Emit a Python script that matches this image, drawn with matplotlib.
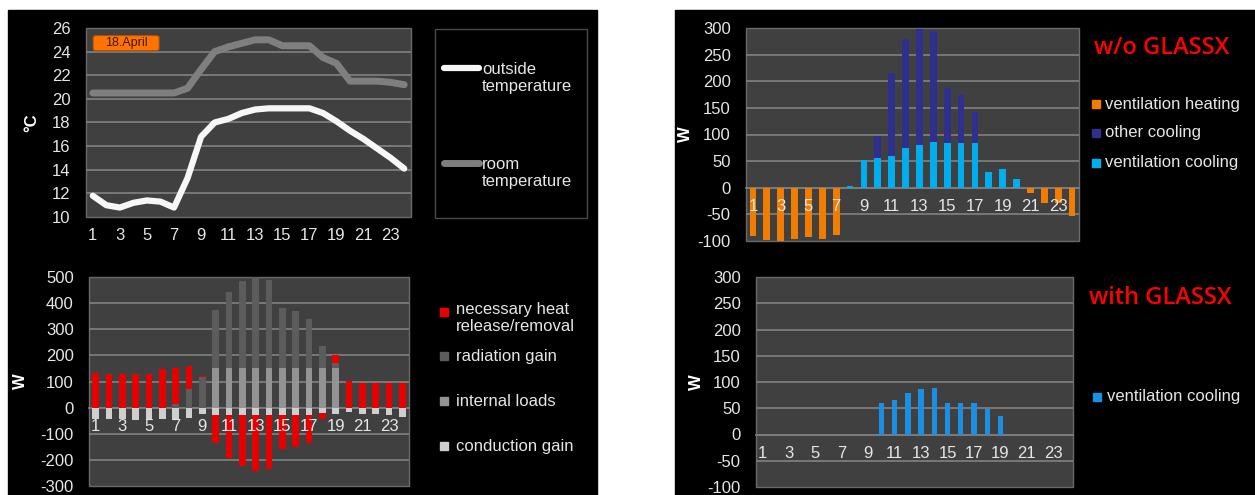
import numpy as np
import matplotlib
matplotlib.use('Agg')
import matplotlib.pyplot as plt
from matplotlib.patches import Rectangle, FancyBboxPatch
from matplotlib.lines import Line2D

plt.rcParams['font.family'] = ['Liberation Sans', 'DejaVu Sans']

hours = list(range(1, 25))
hour_labels = [str(h) if h % 2 == 1 else '' for h in hours]

# temperatures on 18 April (°C)
outside_temp = [11.8, 11.0, 10.8, 11.2, 11.4, 11.3, 10.8, 13.3, 16.8, 18.0, 18.3, 18.8,
                19.1, 19.2, 19.2, 19.2, 19.2, 18.8, 18.1, 17.3, 16.6, 15.8, 15.0, 14.1]
room_temp = [20.5, 20.5, 20.5, 20.5, 20.5, 20.5, 20.5, 20.9, 22.5, 24.0, 24.4, 24.7,
             25.0, 25.0, 24.5, 24.5, 24.5, 23.5, 23.0, 21.5, 21.5, 21.5, 21.4, 21.2]

# heat balance (W)
conduction_gain = [-45, -45, -45, -46, -45, -45, -47, -38, -25, -28, -30, -30,
                   -30, -30, -30, -30, -30, -20, -24, -17, -23, -23, -28, -35]
internal_loads = [0, 0, 0, 0, 0, 0, 0, 0, 0, 150, 150, 150,
                  150, 150, 150, 150, 150, 150, 150, 0, 0, 0, 0, 0]
radiation_gain = [0, 0, 0, 0, 0, 0, 13, 71, 116, 224, 291, 333,
                  349, 337, 233, 221, 189, 86, 21, 0, 0, 0, 0, 0]
heat_release = [133, 130, 130, 130, 130, 146, 138, 87, 6, -107, -163, -195,
                -212, -205, -127, -122, -105, -22, 31, 103, 93, 93, 93, 93]

# w/o GLASSX (W)
vent_heating = [-90, -98, -100, -96, -93, -96, -89, 0, 0, 0, 0, 0,
                0, 0, 0, 0, 0, 0, 0, 0, -9, -29, -29, -53]
vent_cooling = [0, 0, 0, 0, 0, 0, 0, 4, 52, 55, 60, 75,
                81, 86, 84, 84, 84, 30, 35, 16, 0, 0, 0, 0]
other_cooling = [0, 0, 0, 0, 0, 0, 0, 0, 0, 43, 155, 204,
                 218, 208, 103, 91, 59, 0, 0, 0, 0, 0, 0, 0]

# with GLASSX (W)
vent_cooling_glassx = [0, 0, 0, 0, 0, 0, 0, 0, 0, 60, 65, 80,
                       86, 89, 60, 60, 60, 49, 35, 0, 0, 0, 0, 0]

W, H = 1255, 495
BG = '#404040'
GRID = '#7c7c7c'
TXT = '#e6e6e6'

fig = plt.figure(figsize=(W / 100, H / 100), dpi=100, facecolor='white')


def px_box(x0, y0, x1, y1):
    return [x0 / W, 1 - y1 / H, (x1 - x0) / W, (y1 - y0) / H]


# black panels
fig.add_artist(Rectangle((8 / W, 0), 589 / W, 485 / H, transform=fig.transFigure,
                         color='black', zorder=-10))
fig.add_artist(Rectangle((675 / W, 0), 580 / W, 485 / H, transform=fig.transFigure,
                         color='black', zorder=-10))


def style(ax, ylim, step, zero_axis, ylabel, label_x):
    ax.set_facecolor(BG)
    ax.patch.set_edgecolor('#6a6a6a')
    ax.patch.set_linewidth(1.0)
    ax.set_axisbelow(False)  # tick labels on top of the bars
    ax.set_xlim(0.5, 24.5)
    ax.set_ylim(*ylim)
    ticks = np.arange(ylim[0], ylim[1] + step / 2, step)
    ax.set_yticks(ticks)
    ax.set_yticklabels([f'{t:g}' for t in ticks])
    for v in ticks[1:-1]:
        ax.axhline(v, color=GRID, lw=1.3, zorder=0.8)
    ax.set_xticks(hours)
    ax.set_xticklabels(hour_labels)
    for s in ['top', 'right', 'left']:
        ax.spines[s].set_visible(False)
    if zero_axis:
        ax.spines['bottom'].set_position(('data', 0))
        ax.spines['bottom'].set_color(GRID)
        ax.spines['bottom'].set_linewidth(1.3)
        ax.spines['bottom'].set_zorder(0.8)
    else:
        ax.spines['bottom'].set_visible(False)
    ax.tick_params(axis='both', length=0, labelsize=12, labelcolor=TXT)
    ax.tick_params(axis='x', pad=8)
    ax.tick_params(axis='y', pad=11)
    ax.set_ylabel(ylabel, color='white', fontsize=12, fontweight='bold')
    ax.yaxis.set_label_coords(label_x, 0.5)


def stack(ax, series, colors, width):
    pos = np.zeros(len(hours))
    neg = np.zeros(len(hours))
    for vals, col in zip(series, colors):
        vals = np.asarray(vals, float)
        bottom = np.where(vals >= 0, pos, neg)
        ax.bar(hours, vals, width, bottom=bottom, color=col, zorder=2)
        pos += np.clip(vals, 0, None)
        neg += np.clip(vals, None, 0)


# ---- top left: temperatures
ax1 = fig.add_axes(px_box(86, 28, 411, 217))
style(ax1, (10, 26), 2, False, '°C', -0.145)
ax1.plot(hours, room_temp, color='#7f7f7f', lw=5, solid_capstyle='round', solid_joinstyle='round', zorder=3)
ax1.plot(hours, outside_temp, color='#f7f7f7', lw=4.5, solid_capstyle='round', solid_joinstyle='round', zorder=4)
ax1.add_patch(FancyBboxPatch((0.022, 0.88), 0.203, 0.08, boxstyle='round,pad=0,rounding_size=0.01',
                             transform=ax1.transAxes, facecolor='#ff7300', edgecolor='#b35000',
                             lw=0.8, zorder=5))
ax1.text(0.1235, 0.92, '18.April', transform=ax1.transAxes, ha='center', va='center',
         fontsize=9, color='#3a1800', zorder=6)

# legend box for temperatures
fig.add_artist(Rectangle((435 / W, 1 - 218 / H), 152 / W, 189 / H, transform=fig.transFigure,
                         facecolor='none', edgecolor='#4a4a4a', lw=1))
for y, col, lw, lab in [(68, '#f7f7f7', 4.5, 'outside\ntemperature'),
                        (163, '#7f7f7f', 5, 'room\ntemperature')]:
    fig.add_artist(Line2D([444 / W, 479 / W], [1 - y / H, 1 - y / H], transform=fig.transFigure,
                          color=col, lw=lw, solid_capstyle='round'))
    fig.text(482 / W, 1 - (y + 10) / H, lab, ha='left', va='center', fontsize=12,
             color=TXT, linespacing=1.2)

# ---- bottom left: heat balance
ax2 = fig.add_axes(px_box(89, 277, 409, 486))
style(ax2, (-300, 500), 100, True, 'W', -0.19)
bal_colors = ['#cfcfcf', '#939393', '#5c5c5c', '#e80000']
stack(ax2, [conduction_gain, internal_loads, radiation_gain, heat_release], bal_colors, 0.5)

bal_legend = [(312, 318, bal_colors[3], 'necessary heat\nrelease/removal'),
              (356, 356, bal_colors[2], 'radiation gain'),
              (401, 401, bal_colors[1], 'internal loads'),
              (446, 446, bal_colors[0], 'conduction gain')]
for ys, yt, col, lab in bal_legend:
    fig.add_artist(Rectangle((440 / W, 1 - (ys + 4) / H), 8 / W, 8 / H, transform=fig.transFigure,
                             color=col))
    fig.text(456 / W, 1 - yt / H, lab, ha='left', va='center', fontsize=12, color=TXT,
             linespacing=1.2)

# ---- top right: w/o GLASSX
ax3 = fig.add_axes(px_box(746, 28, 1079, 241))
style(ax3, (-100, 300), 50, True, 'W', -0.159)
vent_colors = ['#f07d00', '#2e2f8f', '#00aeef']
stack(ax3, [vent_heating, vent_cooling, other_cooling],
      [vent_colors[0], vent_colors[2], vent_colors[1]], 0.48)

fig.text(1094 / W, 1 - 48 / H, 'w/o GLASSX', ha='left', va='center', fontsize=17,
         color='#ff0000', family='Open Sans', fontweight='semibold')
for y, col, lab in [(104, vent_colors[0], 'ventilation heating'),
                    (133, vent_colors[1], 'other cooling'),
                    (163, vent_colors[2], 'ventilation cooling')]:
    fig.add_artist(Rectangle((1092 / W, 1 - (y + 4) / H), 8 / W, 8 / H, transform=fig.transFigure,
                             color=col))
    fig.text(1105 / W, 1 - y / H, lab, ha='left', va='center', fontsize=12, color=TXT)

# ---- bottom right: with GLASSX
ax4 = fig.add_axes(px_box(756, 277, 1073, 487))
style(ax4, (-100, 300), 50, True, 'W', -0.164)
ax4.bar(hours, vent_cooling_glassx, 0.4, color='#1a8fe3', zorder=2)

fig.text(1089 / W, 1 - 298 / H, 'with GLASSX', ha='left', va='center', fontsize=17,
         color='#ff0000', family='Open Sans', fontweight='semibold')
fig.add_artist(Rectangle((1093 / W, 1 - 401 / H), 8 / W, 8 / H, transform=fig.transFigure,
                         color='#1a8fe3'))
fig.text(1107 / W, 1 - 397 / H, 'ventilation cooling', ha='left', va='center', fontsize=12,
         color=TXT)

fig.savefig('out.png', dpi=100, facecolor='white')
